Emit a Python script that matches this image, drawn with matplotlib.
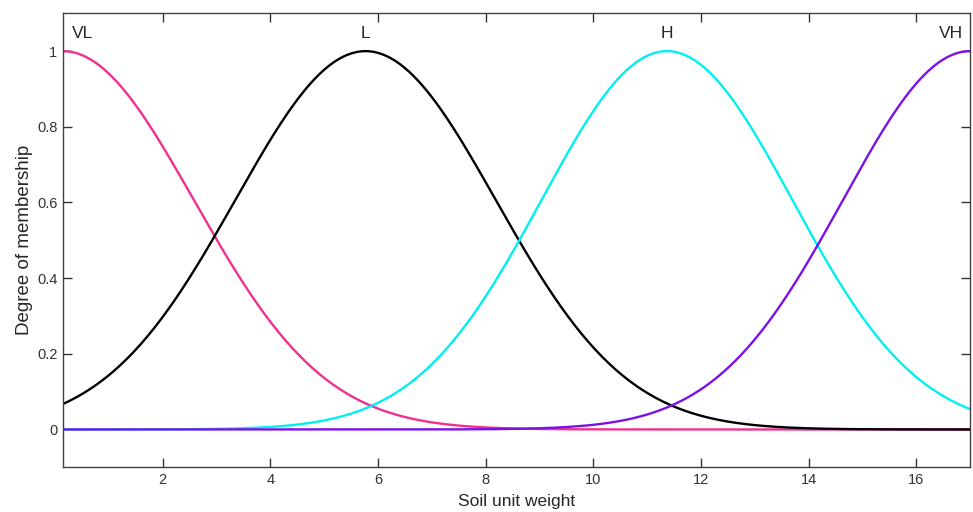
import numpy as np
import matplotlib
matplotlib.use("Agg")
import matplotlib.pyplot as plt
from matplotlib.ticker import FixedLocator, FuncFormatter

# Gaussian membership function parameters
names = ["VL", "L", "H", "VH"]
centers = [0.15, 5.77, 11.37, 17.0]
sigmas = [2.43, 2.42, 2.33, 2.36]
colors = ["#f0308f", "#000000", "#00f0f0", "#7d10e6"]
x_range = [0.15, 17.0]
x_ticks = [2, 4, 6, 8, 10, 12, 14, 16]
y_ticks = [0, 0.2, 0.4, 0.6, 0.8, 1]

plt.rcParams['font.family'] = ['Liberation Sans', 'DejaVu Sans']

fig = plt.figure(figsize=(9.73, 5.12), dpi=100)
ax = fig.add_axes([0.0648, 0.0873, 0.9321, 0.8867])

x = np.linspace(x_range[0], x_range[1], 400)
for n, c, s, col in zip(names, centers, sigmas, colors):
    y = np.exp(-(x - c) ** 2 / (2 * s ** 2))
    ax.plot(x, y, color=col, lw=1.7)
    ax.text(min(max(c, 0.51), 16.65), 1.047, n, ha='center', va='center',
            fontsize=12.5, color='#262626')

ax.set_xlim(x_range)
ax.set_ylim(-0.1, 1.1)
ax.xaxis.set_major_locator(FixedLocator(x_ticks))
ax.yaxis.set_major_locator(FixedLocator(y_ticks))
ax.yaxis.set_major_formatter(FuncFormatter(lambda v, p: f"{v:g}"))
ax.tick_params(direction='in', length=6.5, width=1, top=True, right=True,
               labelsize=10.5, colors='#333333', pad=4)
for sp in ax.spines.values():
    sp.set_color('#404040')
    sp.set_linewidth(1.0)
ax.set_xlabel("Soil unit weight", fontsize=12.5, color='#262626', labelpad=5)
ax.set_ylabel("Degree of membership", fontsize=13.5, color='#262626', labelpad=3)

fig.savefig("out.png", dpi=100)
